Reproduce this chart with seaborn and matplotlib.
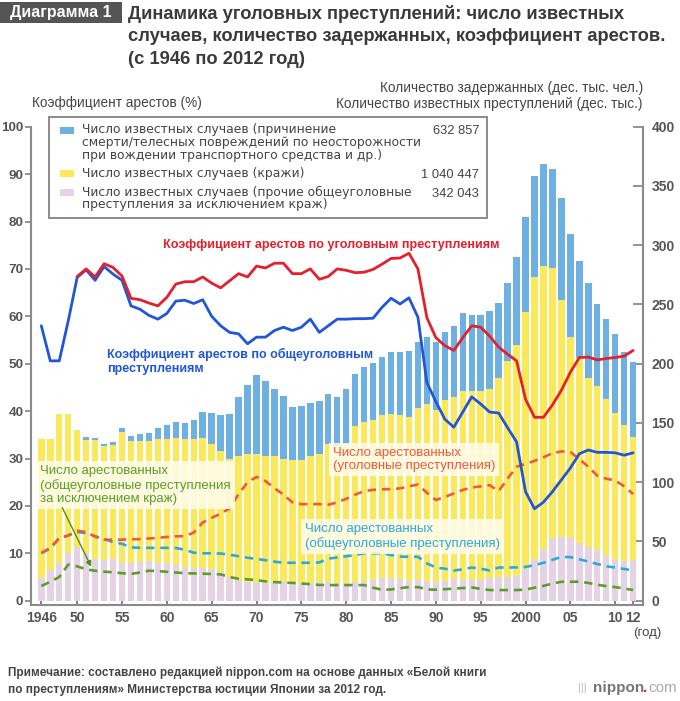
import pandas as pd
import seaborn as sns
import matplotlib.pyplot as plt
from matplotlib.patches import Rectangle

# --- Data ---
years = list(range(1946, 2013))

# known cases, 10 thousand (stacked bars)
other_known = [18.8, 25.8, 32.0, 39.9, 45.5, 39.9, 34.8, 34.2, 34.8, 32.0,
               31.4, 32.8, 33.7, 31.4, 32.0, 30.0, 28.1, 27.2, 27.2, 26.4,
               25.3, 20.2, 17.4, 16.0, 16.0, 15.2, 16.0, 16.0, 16.0, 15.2,
               15.2, 15.5, 15.5, 15.0, 15.2, 16.0, 16.8, 17.4, 18.8, 18.8,
               18.0, 16.8, 17.4, 16.8, 16.0, 16.8, 18.0, 17.4, 17.4, 17.4,
               18.8, 19.6, 20.2, 20.8, 26.4, 35.1, 43.5, 53.3, 53.9, 52.5,
               48.8, 45.5, 42.7, 38.5, 35.1, 33.4, 34.2]
theft_known = [117.9, 110.9, 125.8, 117.9, 98.2, 96.0, 100.5, 96.0, 96.3, 110.5,
               103.1, 101.7, 100.8, 104.7, 104.1, 107.3, 108.0, 108.9, 110.1, 105.5,
               100.7, 99.7, 104.4, 107.5, 107.5, 106.6, 105.8, 103.9, 102.7, 103.5,
               106.6, 108.0, 116.4, 115.2, 117.3, 131.1, 133.9, 134.7, 137.6, 139.0,
               138.4, 138.2, 145.1, 148.8, 145.1, 152.7, 153.8, 159.2, 159.2, 159.2,
               160.0, 168.5, 182.5, 195.1, 217.5, 237.7, 238.6, 227.4, 200.1, 170.4,
               155.9, 142.6, 138.9, 131.9, 123.2, 114.5, 104.0]
traffic_known = [0, 0, 0, 0, 0, 2.2, 2.2, 2.3, 2.5, 3.5,
                 4.2, 5.9, 7.3, 9.9, 11.8, 13.4, 13.8, 16.6, 21.9, 26.4,
                 30.4, 37.3, 49.7, 58.7, 66.8, 63.2, 57.0, 52.7, 44.4, 45.5,
                 44.7, 45.2, 42.7, 41.3, 46.3, 43.8, 46.9, 48.3, 49.1, 51.9,
                 53.3, 56.1, 55.9, 56.7, 57.6, 57.0, 60.3, 66.2, 64.8, 64.8,
                 66.0, 62.8, 65.7, 73.8, 80.0, 85.4, 86.2, 83.4, 85.6, 86.4,
                 82.2, 80.3, 68.8, 67.1, 66.8, 61.8, 63.3]

# arrest rates, %
rate_penal_years = list(range(1950, 2013))
rate_penal = [68.4, 70.0, 68.3, 71.1, 70.3, 68.5, 63.8, 63.5, 62.8, 62.2,
              64.0, 66.8, 67.3, 67.3, 68.3, 67.0, 66.0, 67.5, 69.0, 68.3,
              70.6, 70.2, 71.2, 71.2, 69.0, 69.0, 70.0, 67.8, 68.4, 70.0,
              69.7, 69.2, 69.3, 69.9, 71.0, 72.2, 72.3, 73.3, 70.0, 59.7,
              55.5, 53.8, 52.8, 55.5, 58.0, 57.7, 55.8, 53.5, 52.0, 50.6,
              42.5, 38.7, 38.7, 41.3, 44.4, 48.2, 51.3, 51.4, 50.8, 51.1,
              51.3, 51.6, 52.8]
rate_general = [58.0, 50.6, 50.6, 59.0, 68.2, 69.8, 67.6, 70.5, 68.9, 67.6,
                62.2, 61.5, 60.2, 59.4, 60.6, 63.2, 63.4, 62.7, 63.5, 60.0,
                58.0, 56.6, 56.3, 54.2, 55.6, 55.6, 57.0, 57.7, 57.0, 57.7,
                59.4, 56.6, 58.0, 59.4, 59.4, 59.5, 59.5, 59.6, 61.9, 63.8,
                62.6, 63.9, 59.8, 46.0, 42.0, 38.3, 36.6, 39.8, 43.0, 41.5,
                39.8, 39.6, 36.5, 33.5, 23.0, 19.4, 20.8, 23.0, 25.5, 28.0,
                31.0, 31.8, 31.3, 31.3, 31.2, 30.7, 31.2]

# arrested persons, 10 thousand
arrested_penal = [40.4, 44.6, 53.0, 55.0, 59.0, 58.0, 54.0, 51.5, 51.5, 51.5,
                  51.8, 52.0, 52.5, 53.0, 53.8, 54.3, 54.5, 57.5, 66.0, 70.0,
                  73.5, 78.0, 90.0, 100.0, 104.5, 101.0, 95.0, 89.5, 83.0, 81.5,
                  81.5, 81.5, 81.0, 83.0, 86.0, 89.5, 92.5, 93.5, 94.0, 94.2,
                  94.8, 96.5, 98.0, 91.0, 85.0, 87.5, 90.5, 93.5, 95.5, 96.5,
                  97.5, 92.5, 103.0, 113.0, 115.5, 118.0, 121.0, 124.5, 126.0, 125.5,
                  119.5, 113.0, 105.5, 103.0, 101.5, 96.5, 90.0]
arrested_general = [40.0, 44.0, 52.5, 55.0, 58.0, 57.0, 54.5, 52.0, 49.5, 48.0,
                    45.0, 44.6, 44.6, 44.6, 44.6, 44.5, 43.0, 40.5, 40.0, 40.0,
                    39.8, 38.8, 37.5, 36.3, 35.2, 34.2, 33.0, 32.0, 32.0, 32.0,
                    32.0, 32.3, 35.5, 36.5, 37.5, 38.5, 40.0, 40.0, 40.0, 38.5,
                    37.2, 37.1, 37.1, 31.5, 28.0, 27.0, 25.5, 26.5, 28.0, 27.0,
                    25.5, 28.0, 28.0, 28.1, 28.5, 30.0, 32.0, 34.5, 37.0, 36.8,
                    35.0, 33.0, 31.0, 29.0, 28.0, 26.8, 25.5]
arrested_ex_theft = [12.4, 16.0, 20.0, 30.5, 29.0, 26.5, 25.3, 24.5, 24.0, 23.2,
                     22.6, 23.8, 25.3, 25.0, 24.4, 23.8, 23.2, 23.0, 22.8, 22.5,
                     22.2, 20.0, 18.5, 18.0, 17.4, 16.3, 15.7, 15.3, 15.0, 14.5,
                     14.0, 13.3, 13.2, 13.2, 13.2, 13.2, 13.2, 11.0, 9.2, 9.5,
                     10.5, 11.5, 11.5, 9.5, 9.3, 9.7, 10.2, 10.7, 11.2, 10.0,
                     9.0, 9.0, 9.0, 9.0, 9.3, 11.0, 12.5, 14.5, 16.0, 16.0,
                     16.0, 15.0, 13.5, 12.3, 11.5, 10.3, 9.0]

legend_values = ['632 857', '1 040 447', '342 043']
x_ticks = [1946, 1950, 1955, 1960, 1965, 1970, 1975, 1980, 1985, 1990,
           1995, 2000, 2005, 2010, 2012]
x_labels = ['1946', '50', '55', '60', '65', '70', '75', '80', '85', '90',
            '95', '2000', '05', '10', '12']

# --- Colours ---
BAR_BLUE = '#6eb0e2'
BAR_YELLOW = '#fbe95c'
BAR_PINK = '#e6d2e5'
RED = '#e3202c'
BLUE = '#2156d6'
RED_D = '#f2583a'
CYAN_D = '#2ba9dd'
GREEN_D = '#5a9e2a'
GREY_TXT = '#444444'

sns.set_theme(style='white')
plt.rcParams['font.family'] = ['Liberation Sans', 'DejaVu Sans']
WIDE = ['DejaVu Sans']

W, H = 680, 701


def fx(px):
    return px / W


def fy(py):
    return 1 - py / H


fig = plt.figure(figsize=(6.8, 7.01), dpi=100)
ax = fig.add_axes([fx(31), fy(604.5), fx(643) - fx(31), fy(126.7) - fy(604.5)])

# --- Stacked bars (right scale) ---
bars = pd.DataFrame({'year': years, 'other': other_known,
                     'theft': theft_known, 'traffic': traffic_known})
bars['theft_top'] = bars['other'] + bars['theft']
bars['total'] = bars['theft_top'] + bars['traffic']

for col, color in [('total', BAR_BLUE), ('theft_top', BAR_YELLOW), ('other', BAR_PINK)]:
    sns.barplot(data=bars, x='year', y=col, native_scale=True, color=color,
                saturation=1, width=0.72, errorbar=None, linewidth=0, ax=ax)

# --- Arrested persons (dashed, right scale) ---
arrested = pd.DataFrame({'year': years, 'penal': arrested_penal,
                         'general': arrested_general, 'ex_theft': arrested_ex_theft})
for col, color in [('ex_theft', GREEN_D), ('general', CYAN_D), ('penal', RED_D)]:
    sns.lineplot(data=arrested, x='year', y=col, color=color, lw=1.9,
                 linestyle=(0, (3.2, 2.2)), errorbar=None, ax=ax)

# --- Arrest rates (solid, left scale) ---
ax2 = ax.twinx()
sns.lineplot(x=years, y=rate_general, color=BLUE, lw=2.0, errorbar=None, ax=ax2)
sns.lineplot(x=rate_penal_years, y=rate_penal, color=RED, lw=2.0, errorbar=None, ax=ax2)

# --- Axes formatting ---
ax.set_xlim(1944.85, 2013.1)
ax.set_ylim(-3.2, 400)
ax2.set_ylim(-0.8, 100)
ax.set_yticks(range(0, 401, 50))
ax2.set_yticks(range(0, 101, 10))
ax.set_xticks(x_ticks)
ax.set_xticklabels(x_labels, fontweight='bold')
ax.set_yticklabels([str(v) for v in range(0, 401, 50)], fontweight='bold')
ax2.set_yticklabels([str(v) for v in range(0, 101, 10)], fontweight='bold')
for a in (ax, ax2):
    a.set_xlabel('')
    a.set_ylabel('')

ax.yaxis.tick_right()
ax2.yaxis.tick_left()
ax.tick_params(axis='y', direction='in', length=7, width=1.3, color='#8a8a8a',
               labelcolor='#555555', labelsize=10, pad=6,
               right=True, left=False, labelright=True, labelleft=False)
ax2.tick_params(axis='y', direction='out', length=4, width=1.3, color='#8a8a8a',
                labelcolor='#555555', labelsize=9.7, pad=1.5,
                left=True, right=False, labelleft=True, labelright=False)
ax.tick_params(axis='x', direction='in', length=5, width=1.3, color='#777777',
               labelcolor='#555555', labelsize=10, pad=5, bottom=True)

for name, sp in ax.spines.items():
    sp.set_color('#8a8a8a')
    sp.set_linewidth(1.5)
    sp.set_visible(name != 'top')
for sp in ax2.spines.values():
    sp.set_visible(False)

# --- In-plot labels ---
ax2.text(1959.6, 75.1, 'Коэффициент арестов по уголовным преступлениям',
         color=RED, fontsize=9.1, fontweight='bold', va='center')
ax2.text(1953.3, 50.5, 'Коэффициент арестов по общеуголовным\nпреступлениям',
         color=BLUE, fontsize=9.0, fontweight='bold', va='center', linespacing=1.15)

label_box = dict(boxstyle='square,pad=0.3', fc='#fffcec', ec='none', alpha=0.85)
ax.text(1978.5, 119.3, 'Число арестованных\n(уголовные преступления)',
        color=RED_D, fontsize=9.5, va='center', linespacing=1.15, bbox=label_box)
ax.text(1975.4, 54.1, 'Число арестованных\n(общеуголовные преступления)',
        color=CYAN_D, fontsize=9.5, va='center', linespacing=1.15, bbox=label_box)
ax.text(1945.85, 97.4, 'Число арестованных\n(общеуголовные преступления\nза исключением краж)',
        color=GREEN_D, fontsize=9.5, va='center', linespacing=1.15, bbox=label_box)
ax.annotate('', xy=(1951.7, 26.6), xytext=(1948.2, 80.6),
            arrowprops=dict(arrowstyle='-|>', color='#4d8f22', lw=1.0, mutation_scale=8))

# --- Legend box ---
fig.add_artist(Rectangle((fx(49), fy(218)), fx(487) - fx(49), fy(117) - fy(218),
                         transform=fig.transFigure, fc='white', ec='#8a8a8a', lw=1.4))
legend_rows = [
    (BAR_BLUE, ['Число известных случаев (причинение',
                'смерти/телесных повреждений по неосторожности',
                'при вождении транспортного средства и др.)'], 130, legend_values[0]),
    (BAR_YELLOW, ['Число известных случаев (кражи)'], 173, legend_values[1]),
    (BAR_PINK, ['Число известных случаев (прочие общеуголовные',
                'преступления за исключением краж)'], 192, legend_values[2]),
]
for color, lines, first, value in legend_rows:
    fig.add_artist(Rectangle((fx(60), fy(first + 4)), fx(14), fy(0) - fy(7),
                             transform=fig.transFigure, fc=color, ec='none'))
    for i, line in enumerate(lines):
        fig.text(fx(82), fy(first + 12.6 * i), line, fontsize=8.9, family=WIDE,
                 color=GREY_TXT, va='center')
    fig.text(fx(479), fy(first + 1.5), value, fontsize=9.3, color=GREY_TXT,
             va='center', ha='right')

# --- Titles and axis captions ---
fig.add_artist(Rectangle((0, fy(23)), fx(122), fy(2) - fy(23),
                         transform=fig.transFigure, fc='#555555', ec='none'))
fig.text(fx(61), fy(12.5), 'Диаграмма 1', color='white', fontsize=11.5,
         fontweight='bold', ha='center', va='center')
title_lines = ['Динамика уголовных преступлений: число известных',
               'случаев, количество задержанных, коэффициент арестов.',
               '(с 1946 по 2012 год)']
for i, line in enumerate(title_lines):
    fig.text(fx(128), fy(14 + 22.5 * i), line, color='#3a3a3a', fontsize=13.2,
             fontweight='bold', va='center')
fig.text(fx(32), fy(103), 'Коэффициент арестов (%)', color=GREY_TXT, fontsize=9.8, va='center')
fig.text(fx(643), fy(88), 'Количество задержанных (дес. тыс. чел.)', color=GREY_TXT,
         fontsize=9.8, va='center', ha='right')
fig.text(fx(643), fy(104), 'Количество известных преступлений (дес. тыс.)', color=GREY_TXT,
         fontsize=9.8, va='center', ha='right')
fig.text(fx(647), fy(633), '(год)', color=GREY_TXT, fontsize=9.5, va='center', ha='center')

# --- Footnote and logo ---
foot_lines = ['Примечание: составлено редакцией nippon.com на основе данных «Белой книги',
              'по преступлениям» Министерства юстиции Японии за 2012 год.']
for i, line in enumerate(foot_lines):
    fig.text(fx(8), fy(673 + 17 * i), line, color=GREY_TXT, fontsize=8.5,
             fontweight='bold', va='center')
fig.text(fx(578), fy(688), '|||', color='#bbbbbb', fontsize=8, va='center')
fig.text(fx(593), fy(688), 'nippon', color='#777777', fontsize=11,
         fontweight='bold', va='center')
fig.text(fx(643), fy(688), '.', color='#e3202c', fontsize=11,
         fontweight='bold', va='center')
fig.text(fx(648), fy(688), 'com', color='#aaaaaa', fontsize=11, va='center')

fig.savefig('out.png', dpi=100)
